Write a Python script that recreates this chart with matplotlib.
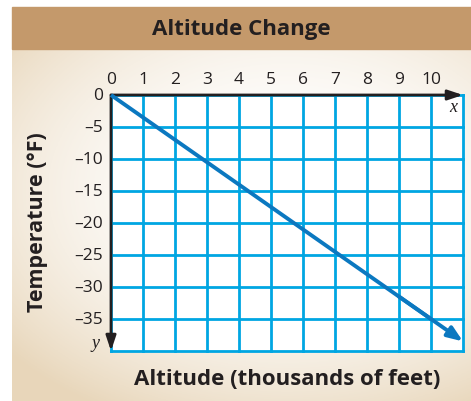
import numpy as np
import matplotlib
matplotlib.use("Agg")
from matplotlib import pyplot as plt
from matplotlib.patches import Rectangle

# altitude in thousands of feet, temperature change in degrees F
altitude = [0, 1, 2, 3, 4, 5, 6, 7, 8, 9, 10, 11]
temperature = [0, -3.5, -7, -10.5, -14, -17.5, -21, -24.5, -28, -31.5, -35, -38.5]

x_ticks = [0, 1, 2, 3, 4, 5, 6, 7, 8, 9, 10]
y_ticks = [0, -5, -10, -15, -20, -25, -30, -35]
y_tick_labels = ["0", "\u20135", "\u201310", "\u201315", "\u201320", "\u201325", "\u201330", "\u201335"]

TEXT = "#231F20"
GRID = "#00A6E2"
LINE = "#0B78C0"
BAND = "#C4996B"

plt.rcParams["font.family"] = ["Open Sans", "DejaVu Sans"]

W, H = 471, 402
fig = plt.figure(figsize=(W / 100, H / 100), dpi=100)

# panel background: soft beige fading to white
bg = fig.add_axes([0, 0, 1, 1])
bg.set_xlim(0, W)
bg.set_ylim(H, 0)
bg.axis("off")
gx, gy = np.meshgrid(np.linspace(0, 1, 200), np.linspace(0, 1, 200))
r = np.sqrt(((gx - 0.6) / 1.0) ** 2 + ((gy - 0.4) / 0.9) ** 2)
t = np.clip(r / 0.8, 0, 1) ** 2.2
beige = np.array([0.91, 0.84, 0.73])
img = 1 - t[..., None] * (1 - beige)
bg.imshow(img, extent=(12, W, H, 50), aspect="auto", zorder=0)
bg.add_patch(Rectangle((12, 8), W - 12, 42, color=BAND, zorder=1))
bg.text((12 + W) / 2, 29, "Altitude Change", ha="center", va="center",
        fontsize=16, fontweight="bold", color=TEXT, zorder=2)
bg.text(287, 380, "Altitude (thousands of feet)", ha="center", va="center",
        fontsize=16, fontweight="bold", color=TEXT)
bg.text(38, 222, "Temperature (\u00b0F)", ha="center", va="center", rotation=90,
        fontsize=15.5, fontweight="bold", color=TEXT)

ax = fig.add_axes([111 / W, 1 - 352 / H, 352 / W, 256 / H])
ax.set_xlim(0, 11)
ax.set_ylim(-40, 0)
ax.set_facecolor("white")
for s in ax.spines.values():
    s.set_visible(False)

ax.set_xticks(range(0, 12))
ax.set_yticks(range(-40, 1, 5))
ax.grid(True, color=GRID, linewidth=2.0, zorder=1)
ax.tick_params(length=0, labelleft=False, labelbottom=False)
for gl in ax.get_xgridlines() + ax.get_ygridlines():
    gl.set_clip_on(False)

# axes with arrowheads
ax.annotate("", xy=(11, 0), xytext=(0, 0),
            arrowprops=dict(arrowstyle="-|>,head_length=0.9,head_width=0.3",
                            color=TEXT, lw=2, shrinkA=0, shrinkB=0), zorder=4, annotation_clip=False)
ax.annotate("", xy=(0, -40), xytext=(0, 0),
            arrowprops=dict(arrowstyle="-|>,head_length=0.9,head_width=0.3",
                            color=TEXT, lw=2, shrinkA=0, shrinkB=0), zorder=4, annotation_clip=False)

# temperature line
ax.plot(altitude[:-1], temperature[:-1], color=LINE, lw=2.8, zorder=5,
        solid_capstyle="butt", clip_on=False)
ax.annotate("", xy=(altitude[-1], temperature[-1]), xytext=(altitude[-3], temperature[-3]),
            arrowprops=dict(arrowstyle="-|>,head_length=0.9,head_width=0.35",
                            color=LINE, lw=2.8, shrinkA=0, shrinkB=0), zorder=5, annotation_clip=False)

for v in x_ticks:
    ax.text(v, 2.5, str(v), ha="center", va="center", fontsize=12.5, color=TEXT, clip_on=False)
for v, lab in zip(y_ticks, y_tick_labels):
    ax.text(-0.25, v, lab, ha="right", va="center", fontsize=12.5, color=TEXT, clip_on=False)

ax.text(10.7, -1.8, "x", ha="center", va="center", fontsize=13, style="italic",
        family="Liberation Serif", color=TEXT)
ax.text(-0.5, -38.6, "y", ha="center", va="center", fontsize=13, style="italic",
        family="Liberation Serif", color=TEXT, clip_on=False)

fig.savefig("out.png", dpi=100)
